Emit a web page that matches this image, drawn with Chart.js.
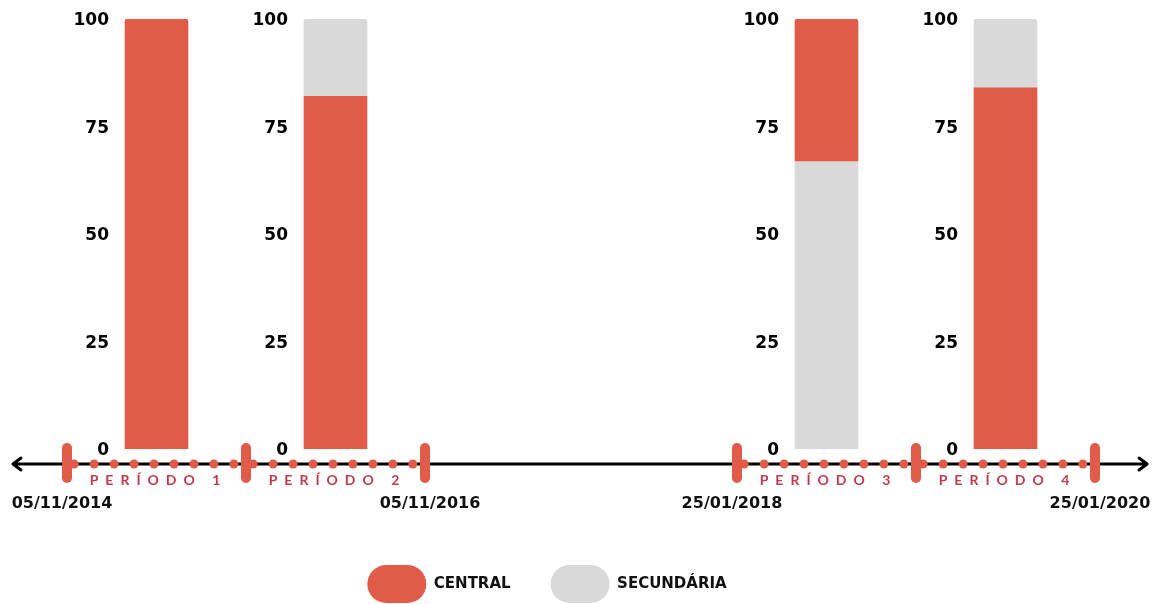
<!DOCTYPE html>
<html lang="pt">
<head>
<meta charset="utf-8">
<script src="https://cdn.jsdelivr.net/npm/chart.js@4.4.1/dist/chart.umd.min.js"></script>
<style>
    html, body { margin: 0; padding: 0; background: #fff; }
    #wrap { position: relative; width: 1164px; height: 604px; }
</style>
</head>
<body>
<div id="wrap"><canvas id="grafico"></canvas></div>
<script>
const periodos = ['PERÍODO 1', 'PERÍODO 2', 'PERÍODO 3', 'PERÍODO 4'];
const central = [100, 82, 33, 84];
const secundaria = [0, 18, 67, 16];
const centralEmBaixo = [true, true, false, true];
const datas = ['05/11/2014', '05/11/2016', '25/01/2018', '25/01/2020'];
const marcasY = [0, 25, 50, 75, 100];

// layout do eixo x: 1 unidade = largura de um período
const pxPeriodo = 179;
const inicioPeriodo = [0, 1, 3.743, 4.743];
const posDatas = [0, 2, 3.743, 5.743];
const ajusteDatas = [-5, 5, -5, 5];
const extremos = [-0.302, 6.034];
const xMin = -67 / pxPeriodo;
const xMax = xMin + 1094 / pxPeriodo;

const VERMELHO = '#e15b49';
const CINZA = '#d9d9d9';

// monta barras flutuantes para permitir ordem diferente no período 3
function faixas(valores, outros, emBaixo) {
    return valores.map((v, i) => {
        const lo = emBaixo[i] ? 0 : outros[i];
        return { x: inicioPeriodo[i] + 0.5, y: [lo, lo + v] };
    });
}

const raioTopo = (ctx) => (ctx.raw && ctx.raw.y[1] >= 100 && ctx.raw.y[1] > ctx.raw.y[0] ? 3 : 0);

const rotulosY = {
    id: 'rotulosY',
    afterDatasetsDraw(chart) {
        const { ctx, scales: { y } } = chart;
        const meta = chart.getDatasetMeta(0);
        ctx.save();
        ctx.font = 'bold 17px "DejaVu Sans"';
        ctx.fillStyle = '#000';
        ctx.textAlign = 'right';
        ctx.textBaseline = 'middle';
        meta.data.forEach((bar) => {
            const { x, width } = bar.getProps(['x', 'width'], true);
            const esquerda = x - width / 2 - 16;
            marcasY.forEach((t) => ctx.fillText(String(t), esquerda, y.getPixelForValue(t) + 2));
        });
        ctx.restore();
    }
};

const linhaDoTempo = {
    id: 'linhaDoTempo',
    afterDraw(chart) {
        const { ctx, scales: { x, y } } = chart;
        const base = y.getPixelForValue(0) + 15;
        const xa = x.getPixelForValue(extremos[0]);
        const xb = x.getPixelForValue(extremos[1]);
        ctx.save();

        // eixo com setas
        ctx.strokeStyle = '#000';
        ctx.lineWidth = 3;
        ctx.lineCap = 'round';
        ctx.lineJoin = 'round';
        ctx.beginPath();
        ctx.moveTo(xa, base);
        ctx.lineTo(xb, base);
        ctx.moveTo(xa + 8, base - 6);
        ctx.lineTo(xa, base);
        ctx.lineTo(xa + 8, base + 6);
        ctx.moveTo(xb - 8, base - 6);
        ctx.lineTo(xb, base);
        ctx.lineTo(xb - 8, base + 6);
        ctx.stroke();

        // pontos de cada período
        ctx.fillStyle = VERMELHO;
        inicioPeriodo.forEach((s) => {
            for (let k = 0; k < 9; k++) {
                const px = x.getPixelForValue(s + 0.04 + k * 0.1115);
                ctx.beginPath();
                ctx.arc(px, base, 4.5, 0, Math.PI * 2);
                ctx.fill();
            }
        });

        // marcadores de início / fim
        ctx.strokeStyle = VERMELHO;
        ctx.lineWidth = 10;
        const marcos = new Set();
        inicioPeriodo.forEach((s) => { marcos.add(s); marcos.add(s + 1); });
        marcos.forEach((m) => {
            const px = x.getPixelForValue(m);
            ctx.beginPath();
            ctx.moveTo(px, base - 16);
            ctx.lineTo(px, base + 14);
            ctx.stroke();
        });

        // nomes dos períodos
        const meta = chart.getDatasetMeta(0);
        ctx.font = 'bold 14px Lato';
        ctx.letterSpacing = '7px';
        ctx.fillStyle = '#c13b4f';
        ctx.textAlign = 'center';
        ctx.textBaseline = 'middle';
        periodos.forEach((p, i) => {
            const bx = meta.data[i].x;
            ctx.fillText(p, bx + 2, base + 16);
        });

        // datas
        ctx.letterSpacing = '0px';
        ctx.font = 'bold 16px "DejaVu Sans"';
        ctx.fillStyle = '#111';
        datas.forEach((d, i) => {
            ctx.fillText(d, x.getPixelForValue(posDatas[i]) + ajusteDatas[i], base + 40);
        });
        ctx.restore();
    }
};

new Chart(document.getElementById('grafico'), {
    type: 'bar',
    data: {
        datasets: [
            {
                label: 'CENTRAL',
                data: faixas(central, secundaria, centralEmBaixo),
                backgroundColor: VERMELHO,
                borderWidth: 0,
                borderRadius: raioTopo,
                borderSkipped: 'start',
                barThickness: 63,
                grouped: false
            },
            {
                label: 'SECUNDÁRIA',
                data: faixas(secundaria, central, centralEmBaixo.map((b) => !b)),
                backgroundColor: CINZA,
                borderWidth: 0,
                borderRadius: raioTopo,
                borderSkipped: 'start',
                barThickness: 63,
                grouped: false
            }
        ]
    },
    options: {
        responsive: true,
        maintainAspectRatio: false,
        animation: false,
        layout: { padding: { top: 19, right: 70, bottom: -9, left: 0 } },
        scales: {
            x: {
                type: 'linear',
                min: xMin,
                max: xMax,
                offset: false,
                grid: { display: false },
                border: { display: false },
                ticks: { display: false },
                afterFit(scale) { scale.height = 76; }
            },
            y: { min: 0, max: 100, display: false }
        },
        plugins: {
            tooltip: { enabled: false },
            legend: {
                position: 'bottom',
                labels: {
                    boxWidth: 59,
                    boxHeight: 38,
                    useBorderRadius: true,
                    borderRadius: 19,
                    padding: 40,
                    color: '#111',
                    font: { family: 'DejaVu Sans', weight: 'bold', size: 15 }
                }
            }
        }
    },
    plugins: [rotulosY, linhaDoTempo]
});
</script>
</body>
</html>
